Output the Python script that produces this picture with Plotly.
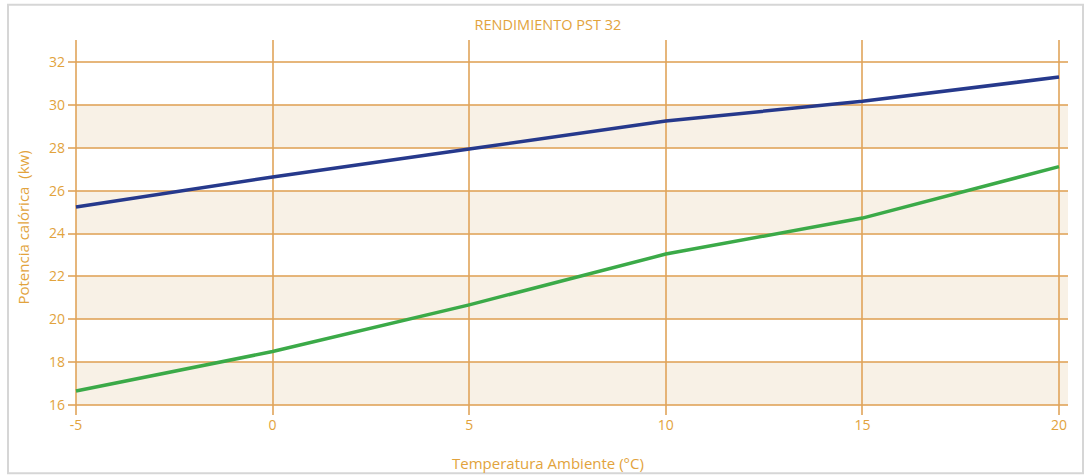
import plotly.graph_objects as go

# Ambient temperature (°C) and heating output (kW) of the PST 32
temperatura = [-5, 0, 5, 10, 15, 20]
potencia_alta = [25.24, 26.64, 27.94, 29.25, 30.17, 31.30]
potencia_baja = [16.65, 18.49, 20.67, 23.04, 24.72, 27.12]

x_ticks = [-5, 0, 5, 10, 15, 20]
x_tick_labels = ["-5", "0", "5", "10", "15", "20"]
y_ticks = [16, 18, 20, 22, 24, 26, 28, 30, 32]

ORANGE = "rgba(224,164,90,0.8)"
TEXT = "#E2A33C"
FONT = "Open Sans"

fig = go.Figure()

# alternating shaded bands between every other pair of gridlines
shapes = []
for lo, hi in zip(y_ticks[0::2], y_ticks[1::2]):
    shapes.append(dict(type="rect", xref="x", yref="y", x0=x_ticks[0], x1=20.23,
                       y0=lo, y1=hi, fillcolor="#F8F1E6", line_width=0, layer="below"))

# light frame around the whole chart
shapes.append(dict(type="rect", xref="paper", yref="paper", x0=-0.06, x1=1.015,
                   y0=-0.155, y1=1.094, line=dict(color="#D6D6D6", width=2),
                   fillcolor="rgba(0,0,0,0)", layer="below"))

fig.add_trace(go.Scatter(x=temperatura, y=potencia_alta, mode="lines",
                         line=dict(color="#26398C", width=3.5), showlegend=False))
fig.add_trace(go.Scatter(x=temperatura, y=potencia_baja, mode="lines",
                         line=dict(color="#3BAA48", width=3.5), showlegend=False))

fig.update_layout(
    width=1085, height=476,
    margin=dict(l=68, r=17, t=40, b=61),
    paper_bgcolor="white", plot_bgcolor="white",
    shapes=shapes,
    title=dict(text="RENDIMIENTO PST 32", x=0.505, xanchor="center", y=0.9475, yanchor="middle",
               font=dict(family=FONT, size=14.5, color=TEXT)),
    font=dict(family=FONT, size=14, color=TEXT),
    annotations=[dict(text="Temperatura Ambiente (°C)", xref="paper", yref="paper",
                      x=0.48, y=-0.127, xanchor="center", yanchor="middle", showarrow=False,
                      font=dict(family=FONT, size=15, color=TEXT))],
)
fig.update_xaxes(
    range=[-5.203, 20.229], tickvals=x_ticks, ticktext=x_tick_labels, ticks="",
    showline=False, zeroline=False,
    showgrid=True, gridcolor=ORANGE, gridwidth=2.2,
    tickfont=dict(family=FONT, size=14, color=TEXT),
)
fig.update_yaxes(
    range=[15.53, 33.03], tickvals=y_ticks, ticks="", showline=False, zeroline=False,
    showgrid=True, gridcolor=ORANGE, gridwidth=2.2, ticklabelstandoff=2,
    tickfont=dict(family=FONT, size=14, color=TEXT),
    title=dict(text="Potencia calórica  (kw)", standoff=15,
               font=dict(family=FONT, size=15, color=TEXT)),
)

fig.write_html("out.html")
